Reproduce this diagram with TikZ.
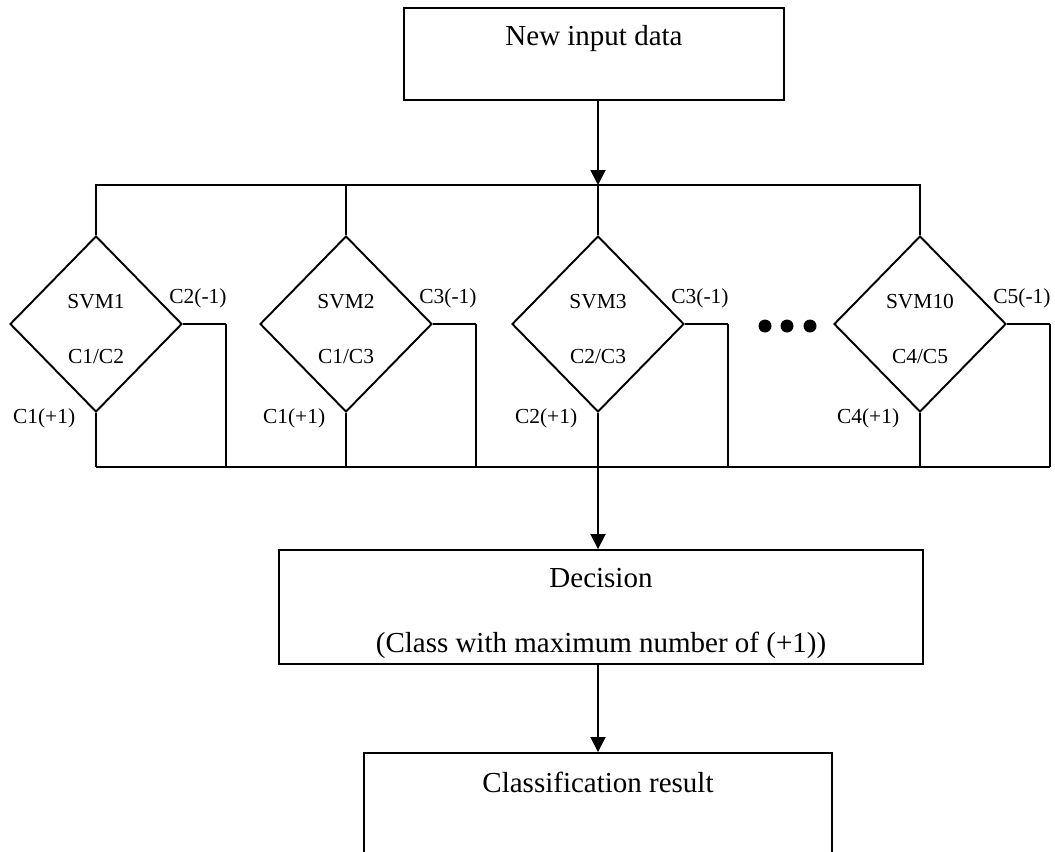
\documentclass[tikz,border=0pt]{standalone}
\usepackage{fontspec}
\setmainfont{Liberation Serif}
\usetikzlibrary{arrows.meta,shapes.geometric}

\begin{document}
\begin{tikzpicture}[x=0.02cm,y=-0.02cm,line width=1.1pt,>={Triangle[length=0.3cm,width=0.3cm]}]
  \tikzstyle{box}=[draw,rectangle,inner sep=0pt,font=\fontsize{16.5}{37}\selectfont]
  \tikzstyle{svm}=[draw,diamond,minimum width=3.44cm,minimum height=3.52cm,inner sep=0pt,align=center,text height=1.58cm,font=\fontsize{12.2}{31.3}\selectfont]
  \tikzstyle{lab}=[font=\fontsize{12.2}{14}\selectfont]

  \clip (0,0) rectangle (1055,852);

  \node[box,minimum width=7.6cm,minimum height=1.84cm,text height=0.4cm,text depth=0.76cm] (input) at (594,54) {New input data};

  \node[svm] (S1)  at (96,324)  {SVM1\\C1/C2};
  \node[svm] (S2)  at (346,324) {SVM2\\C1/C3};
  \node[svm] (S3)  at (598,324) {SVM3\\C2/C3};
  \node[svm] (S10) at (920,324) {SVM10\\C4/C5};

  \node[box,align=center,minimum width=12.9cm,minimum height=2.28cm,text height=1.93cm] (dec) at (601,607) {Decision\\(Class with maximum number of (+1))};
  \node[box,minimum width=9.38cm,minimum height=2.6cm,text height=0.52cm,text depth=1.56cm] (res) at (598,818) {Classification result};

  \coordinate (busT) at (598,185);
  \coordinate (busB) at (598,467);

  % input to the classifiers
  \draw[->] (input.south -| busT) -- (busT);
  \draw (S1.north) |- (busT) -| (S10.north);
  \draw (S2.north) -- (S2.north |- busT);
  \draw (busT) -- (S3.north);

  % outputs of each classifier
  \foreach \s/\m/\p in {S1/C2(-1)/C1(+1), S2/C3(-1)/C1(+1), S3/C3(-1)/C2(+1), S10/C5(-1)/C4(+1)}{
    \draw (\s.east) -- node[lab,pos=.35,above=1.8mm] {\m} ++(43,0) coordinate (\s r);
    \draw (\s r) -- (\s r |- busB);
    \draw (\s.south) -- node[lab,pos=.1,left=2.8mm] {\p} (\s.south |- busB);
  }
  \draw (S1.south |- busB) -- (S10r |- busB);

  \foreach \x in {765,787,810}
    \fill (\x,326) circle (0.13cm);

  \draw[->] (busB) -- (dec.north -| busB);
  \draw[->] (dec.south -| busB) -- (res.north -| busB);
\end{tikzpicture}
\end{document}
